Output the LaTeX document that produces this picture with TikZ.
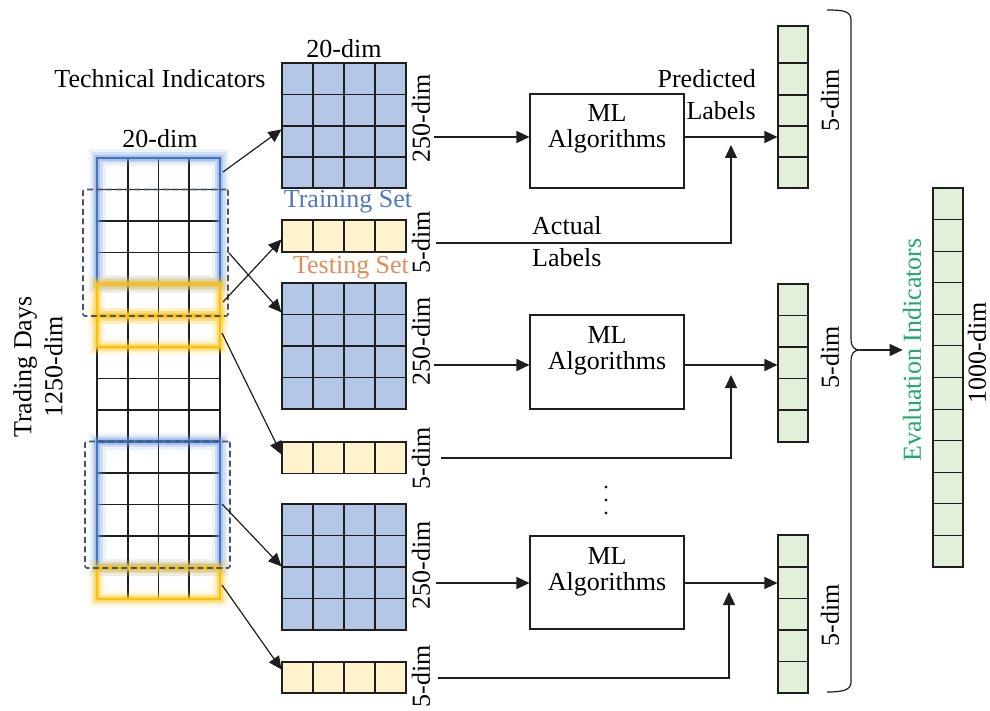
\documentclass[tikz,border=0pt]{standalone}
\usepackage{fontspec}
\setmainfont{Liberation Serif}
\usetikzlibrary{arrows.meta,fit,calc}
\definecolor{mblue}{HTML}{B4C7E7}
\definecolor{tyellow}{HTML}{FFF2CC}
\definecolor{ggreen}{HTML}{E2F0D9}
\definecolor{blueline}{HTML}{4472C4}
\definecolor{glowblue}{HTML}{6F9BDA}
\definecolor{yellowline}{HTML}{FFC000}
\definecolor{glowyellow}{HTML}{FFC82E}
\definecolor{dashcol}{HTML}{44546A}
\definecolor{trainc}{HTML}{5478BE}
\definecolor{testc}{HTML}{E08D58}
\definecolor{evalc}{HTML}{1FAA6B}
\definecolor{linec}{HTML}{1E1E1E}
\newcommand\cells[8]{%
  \node[fit={(#3,#4) (#5,#6)}, inner sep=0pt, draw=linec, fill=#2, line width=1.1pt] (#1) {};
  \foreach \xx in {#7} {\draw[gridl] (\xx,#4) -- (\xx,#6);}
  \foreach \yy in {#8} {\draw[gridl] (#3,\yy) -- (#5,\yy);}
}
\begin{document}
\begin{tikzpicture}[x=1pt,y=-1pt,
  gridl/.style={line width=1.1pt, draw=linec},
  lbl/.style={font=\fontsize{26}{31}\selectfont, inner sep=0pt},
  rot/.style={lbl, rotate=90},
  arr/.style={draw=linec, line width=1.2pt, -{Triangle[length=13pt,width=12pt]}},
  mlbox/.style={inner sep=0pt, draw=linec, line width=1.1pt},
  glowB/.style={inner sep=0pt, draw=blueline, line width=2.8pt,
    preaction={draw=glowblue, line width=17pt, draw opacity=0.12},
    preaction={draw=glowblue, line width=11pt, draw opacity=0.22},
    preaction={draw=glowblue, line width=6.5pt, draw opacity=0.4}},
  glowY/.style={inner sep=0pt, draw=yellowline, line width=2.8pt,
    preaction={draw=glowyellow, line width=16pt, draw opacity=0.14},
    preaction={draw=glowyellow, line width=10pt, draw opacity=0.25},
    preaction={draw=glowyellow, line width=6pt, draw opacity=0.45}},
  dashbox/.style={inner sep=0pt, draw=dashcol, line width=1.6pt, dash pattern=on 6pt off 3.5pt, rounded corners=2pt}
]
\useasboundingbox (0,0) rectangle (990,711);

% ---------------- left data grid ----------------
\cells{data}{white}{97}{158}{220}{599}{128,158.5,189}{189.5,221,252.5,284,315.5,347,378.5,410,441.5,473,504.5,536,567.5}
\node[glowB, fit={(97,158) (220,284)}] (tr1) {};
\node[glowY, fit={(97,284) (220,315.5)}] (te1) {};
\node[glowY, fit={(97,315.5) (220,347)}] (te1b) {};
\node[glowB, fit={(97,441.5) (220,567.5)}] (tr2) {};
\node[glowY, fit={(97,567.5) (220,599)}] (te2) {};
\node[dashbox, fit={(83,189.5) (228,316)}] (win1) {};
\node[dashbox, fit={(85,441.5) (230,568)}] (win2) {};

\node[rot, align=center] (days) at (38,367) {Trading Days\\1250-dim};
\node[lbl, anchor=base] (ti) at (160,88) {Technical Indicators};
\node[lbl, anchor=base] (d20a) at (160,148) {20-dim};

% ---------------- training / testing blocks ----------------
\cells{m1}{mblue}{282}{63}{406}{188}{313,344,375}{94.5,126,157}
\cells{t1}{tyellow}{282}{220}{406}{252}{313,344,375}{220}
\cells{m2}{mblue}{282}{283}{406}{409}{313,344,375}{314.5,346,377.5}
\cells{t2}{tyellow}{282}{442}{406}{473.5}{313,344,375}{442}
\cells{m3}{mblue}{282}{504}{406}{630}{313,344,375}{535.5,567,598.5}
\cells{t3}{tyellow}{282}{662}{406}{693}{313,344,375}{662}

\node[lbl, anchor=base] (d20b) at (344,58) {20-dim};
\node[lbl, anchor=base, text=trainc] (trs) at (348,208) {Training Set};
\node[lbl, anchor=base, text=testc] (tes) at (351,273) {Testing Set};
\node[rot] (lm1) at (421,118) {250-dim};
\node[rot] (lt1) at (421,242) {5-dim};
\node[rot] (lm2) at (421,341) {250-dim};
\node[rot] (lt2) at (421,458) {5-dim};
\node[rot] (lm3) at (421,565) {250-dim};
\node[rot] (lt3) at (421,676) {5-dim};

% arrows from data grid
\coordinate (s1) at (223,172);
\coordinate (s2) at (223,302);
\coordinate (s3) at (229,253);
\coordinate (s4) at (222,333);
\coordinate (s5) at (222,504);
\coordinate (s6) at (222,585);
\draw[arr] (s1) -- ($(m1.north west)+(0,67)$);
\draw[arr] (s2) -- ($(t1.north west)+(0,20)$);
\draw[arr] (s3) -- ($(m2.north west)+(0,30)$);
\draw[arr] (s4) -- ($(t2.north west)+(0,13)$);
\draw[arr] (s5) -- ($(m3.north west)+(0,63)$);
\draw[arr] (s6) -- ($(t3.north west)+(0,8)$);

% ---------------- ML blocks ----------------
\node[mlbox, fit={(530,94) (684,188)}] (ml1) {};
\node[mlbox, fit={(530,315) (684,409)}] (ml2) {};
\node[mlbox, fit={(530,536) (684,629)}] (ml3) {};
\foreach \t in {94,315,536} {
  \node[lbl, anchor=base] at (607,\t+28) {ML};
  \node[lbl, anchor=base] at (607,\t+54) {Algorithms};
}
\foreach \yy in {487,500,513} {\fill[linec] (606,\yy) circle (1.6pt);}

% ---------------- predicted label columns ----------------
\cells{g1}{ggreen}{778}{26}{808}{188}{778}{63,95,126,157}
\cells{g2}{ggreen}{778}{284}{808}{442}{778}{315.5,347,378.5,410}
\cells{g3}{ggreen}{778}{535}{808}{693}{778}{567,598.5,630,661.5}
\node[rot] (lg1) at (830,100) {5-dim};
\node[rot] (lg2) at (830,357) {5-dim};
\node[rot] (lg3) at (830,615) {5-dim};

\node[lbl, anchor=base east] (pred) at (756,88) {Predicted};
\node[lbl, anchor=base east] (predl) at (756,120) {Labels};
\node[lbl, anchor=base west] (act) at (532,235) {Actual};
\node[lbl, anchor=base west] (actl) at (532,267) {Labels};

% arrows to / from ML blocks
\coordinate (p1) at (434,137);
\coordinate (p2) at (434,365);
\coordinate (p3) at (436,583);
\draw[arr] (p1) -- (p1 -| ml1.west);
\draw[arr] (p2) -- (p2 -| ml2.west);
\draw[arr] (p3) -- (p3 -| ml3.west);
\draw[arr] (ml1.east |- p1) -- (p1 -| g1.west);
\draw[arr] (ml2.east |- p2) -- (p2 -| g2.west);
\draw[arr] (ml3.east |- p3) -- (p3 -| g3.west);
\coordinate (q1) at (436,243);
\coordinate (q2) at (441,458);
\coordinate (q3) at (438,678);
\coordinate (u1) at (731,145);
\coordinate (u2) at (731,375);
\coordinate (u3) at (729,592);
\draw[arr] (q1) -| (u1);
\draw[arr] (q2) -| (u2);
\draw[arr] (q3) -| (u3);

% ---------------- brace and evaluation ----------------
\draw[linec, line width=1.2pt] (827,10) .. controls (843,10) and (851,11) .. (851,20)
  -- (851,338) .. controls (851,347) and (854,350) .. (860,350)
  .. controls (854,350) and (851,353) .. (851,362)
  -- (851,682) .. controls (851,690) and (843,692) .. (827,692);
\coordinate (btip) at (860,350);
\cells{ev}{ggreen}{933}{188}{963}{567}{933}{219.6,251.2,282.8,314.3,345.9,377.5,409.1,440.7,472.2,503.8,535.4}
\node[rot, text=evalc] (evl) at (912,350) {Evaluation Indicators};
\node[rot] (l1000) at (977,353) {1000-dim};
\draw[arr] (btip) -- (btip -| evl.north);
\end{tikzpicture}
\end{document}
